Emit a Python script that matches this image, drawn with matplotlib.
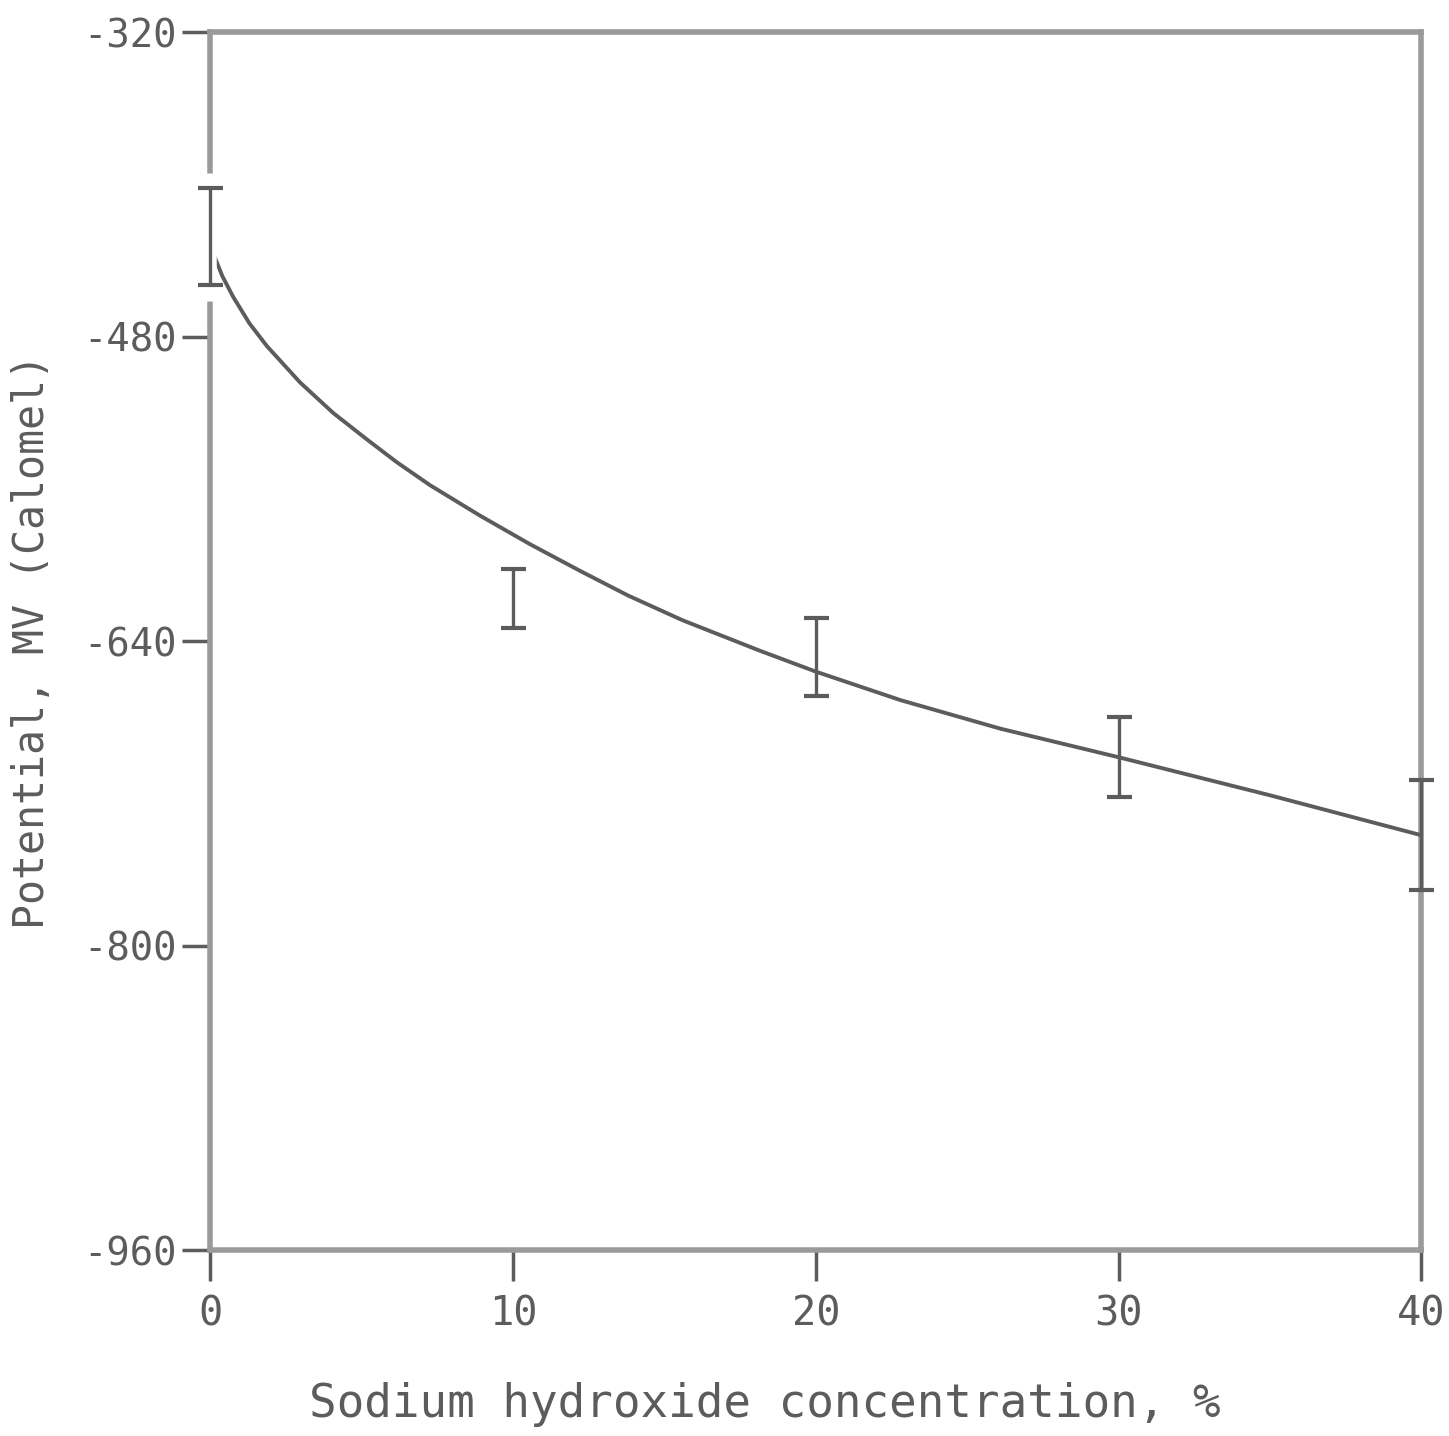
import numpy as np
import matplotlib.pyplot as plt

# fitted potential curve vs NaOH concentration
conc = [0, 0.1, 0.4, 0.76, 1.3, 1.88, 2.97, 4.06, 5.18, 6.17, 7.26, 8.91, 10.56,
        12.21, 13.8, 15.6, 18.15, 20, 22.8, 26.1, 30, 35, 40]
potential = [-432, -436, -448, -459, -473, -485, -504, -520, -534, -546, -558,
             -574, -589, -603, -616, -629, -645, -656, -671, -686, -701, -721,
             -742]

# measured ranges
bar_conc = [0, 10, 20, 30, 40]
bar_high = [-402, -602, -628, -680, -713]
bar_low = [-453, -633, -669, -722, -771]

x_ticks = [0, 10, 20, 30, 40]
y_ticks = [-320, -480, -640, -800, -960]

ink = "#5c5c5c"
frame = "#9a9a9a"
plt.rcParams["font.family"] = ["DejaVu Sans Mono"]

fig = plt.figure(figsize=(14.49, 14.36), dpi=100)
ax = fig.add_axes([0.145, 0.1295, 0.836, 0.848])

ax.plot(conc, potential, color=ink, lw=2.8, zorder=3, solid_joinstyle="round")

mid = [(h + l) / 2 for h, l in zip(bar_high, bar_low)]
err = [(h - l) / 2 for h, l in zip(bar_high, bar_low)]
# white gap in the frame behind the first bar
ax.plot([0, 0], [bar_high[0] + 8, bar_low[0] - 8], color="white", lw=9,
        clip_on=False, zorder=4, solid_capstyle="butt")
ax.errorbar(bar_conc, mid, yerr=err, fmt="none", ecolor=ink, elinewidth=2.4,
            capsize=9, capthick=3, clip_on=False, zorder=5)

ax.set_xlim(0, 40)
ax.set_ylim(-960, -320)
ax.set_xticks(x_ticks)
ax.set_yticks(y_ticks)
ax.set_yticklabels([str(v) for v in y_ticks])

for s in ax.spines.values():
    s.set_color(frame)
    s.set_linewidth(4)

ax.tick_params(axis="x", direction="out", length=22, width=2.5, color=ink,
               labelsize=29, labelcolor=ink, pad=10)
ax.tick_params(axis="y", direction="out", length=20, width=2.5, color=ink,
               labelsize=28, labelcolor=ink, pad=4)

ax.set_xlabel("Sodium hydroxide concentration, %", fontsize=33, color=ink)
ax.xaxis.set_label_coords(0.458, -0.108)
ax.set_ylabel("Potential, MV (Calomel)", fontsize=30, color=ink, labelpad=22)

fig.savefig("out.png", dpi=100)
